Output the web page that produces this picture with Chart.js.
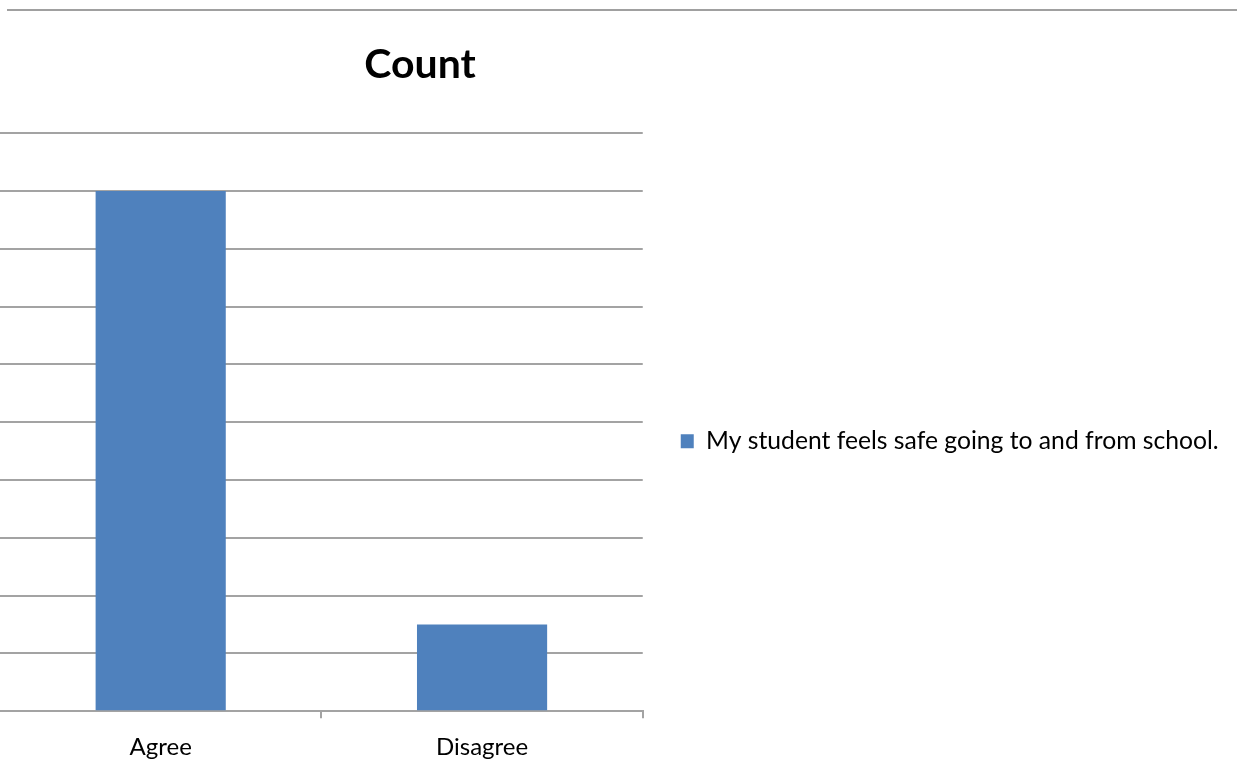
<!DOCTYPE html>
<html>
<head>
<meta charset="utf-8">
<script src="https://cdn.jsdelivr.net/npm/chart.js@4.4.1/dist/chart.umd.min.js"></script>
<style>
  html, body { margin: 0; padding: 0; background: #fff; }
  #wrap { position: relative; width: 1237px; height: 780px; }
  #topRule { position: absolute; left: 7px; right: 0; top: 9px; height: 2px; background: #a0a0a0; }
  canvas { position: absolute; left: 0; top: 0; }
</style>
</head>
<body>
<div id="wrap">
  <canvas id="miGrafico" width="1237" height="780"></canvas>
  <div id="topRule"></div>
</div>
<script>
// Datos
const categorias = ['Agree', 'Disagree'];
const valores = [18, 3];
const serieNombre = 'My student feels safe going to and from school.';
const tituloTexto = 'Count';

const fuente = 'Lato, "Open Sans", sans-serif';
const gris = '#a3a3a3';

// Ajustes de posicion para titulo y leyenda (estilo Excel)
const ajustePlugin = {
    id: 'ajuste',
    afterLayout(chart) {
        const t = chart.titleBlock;
        if (t) { t.left = 0; t.right = 840; t.width = 840; }
        const l = chart.legend;
        if (l) {
            l.right = chart.width;
            l.width = l.right - l.left;
            l.top += 19;
            l.bottom += 19;
        }
    }
};

const ctx = document.getElementById('miGrafico').getContext('2d');

new Chart(ctx, {
    type: 'bar',
    data: {
        labels: categorias,
        datasets: [{
            label: serieNombre,
            data: valores,
            backgroundColor: '#4f81bd',
            borderWidth: 0,
            categoryPercentage: 1.0,
            barPercentage: 0.405
        }]
    },
    options: {
        responsive: false,
        animation: false,
        layout: { padding: { left: 0, right: 380, top: 0, bottom: 3 } },
        plugins: {
            tooltip: { enabled: false },
            title: {
                display: true,
                text: tituloTexto,
                color: '#000',
                font: { family: fuente, size: 41, weight: 'bold' },
                padding: { top: 40, bottom: 44 }
            },
            legend: {
                display: true,
                position: 'right',
                fullSize: false,
                labels: {
                    boxWidth: 13,
                    boxHeight: 14,
                    padding: 38,
                    color: '#000',
                    font: { family: fuente, size: 24.7 }
                }
            }
        },
        scales: {
            x: {
                grid: {
                    drawOnChartArea: false,
                    drawTicks: true,
                    tickLength: 7,
                    lineWidth: 2,
                    color: (c) => c.index === 0 ? 'rgba(0,0,0,0)' : gris
                },
                border: { display: true, color: gris, width: 2 },
                ticks: {
                    color: '#000',
                    padding: 15,
                    font: { family: fuente, size: 24 }
                }
            },
            y: {
                min: 0,
                max: 20,
                ticks: { display: false, stepSize: 2 },
                border: { display: false },
                grid: { drawTicks: false, color: gris, lineWidth: 2 }
            }
        }
    },
    plugins: [ajustePlugin]
});
</script>
</body>
</html>
